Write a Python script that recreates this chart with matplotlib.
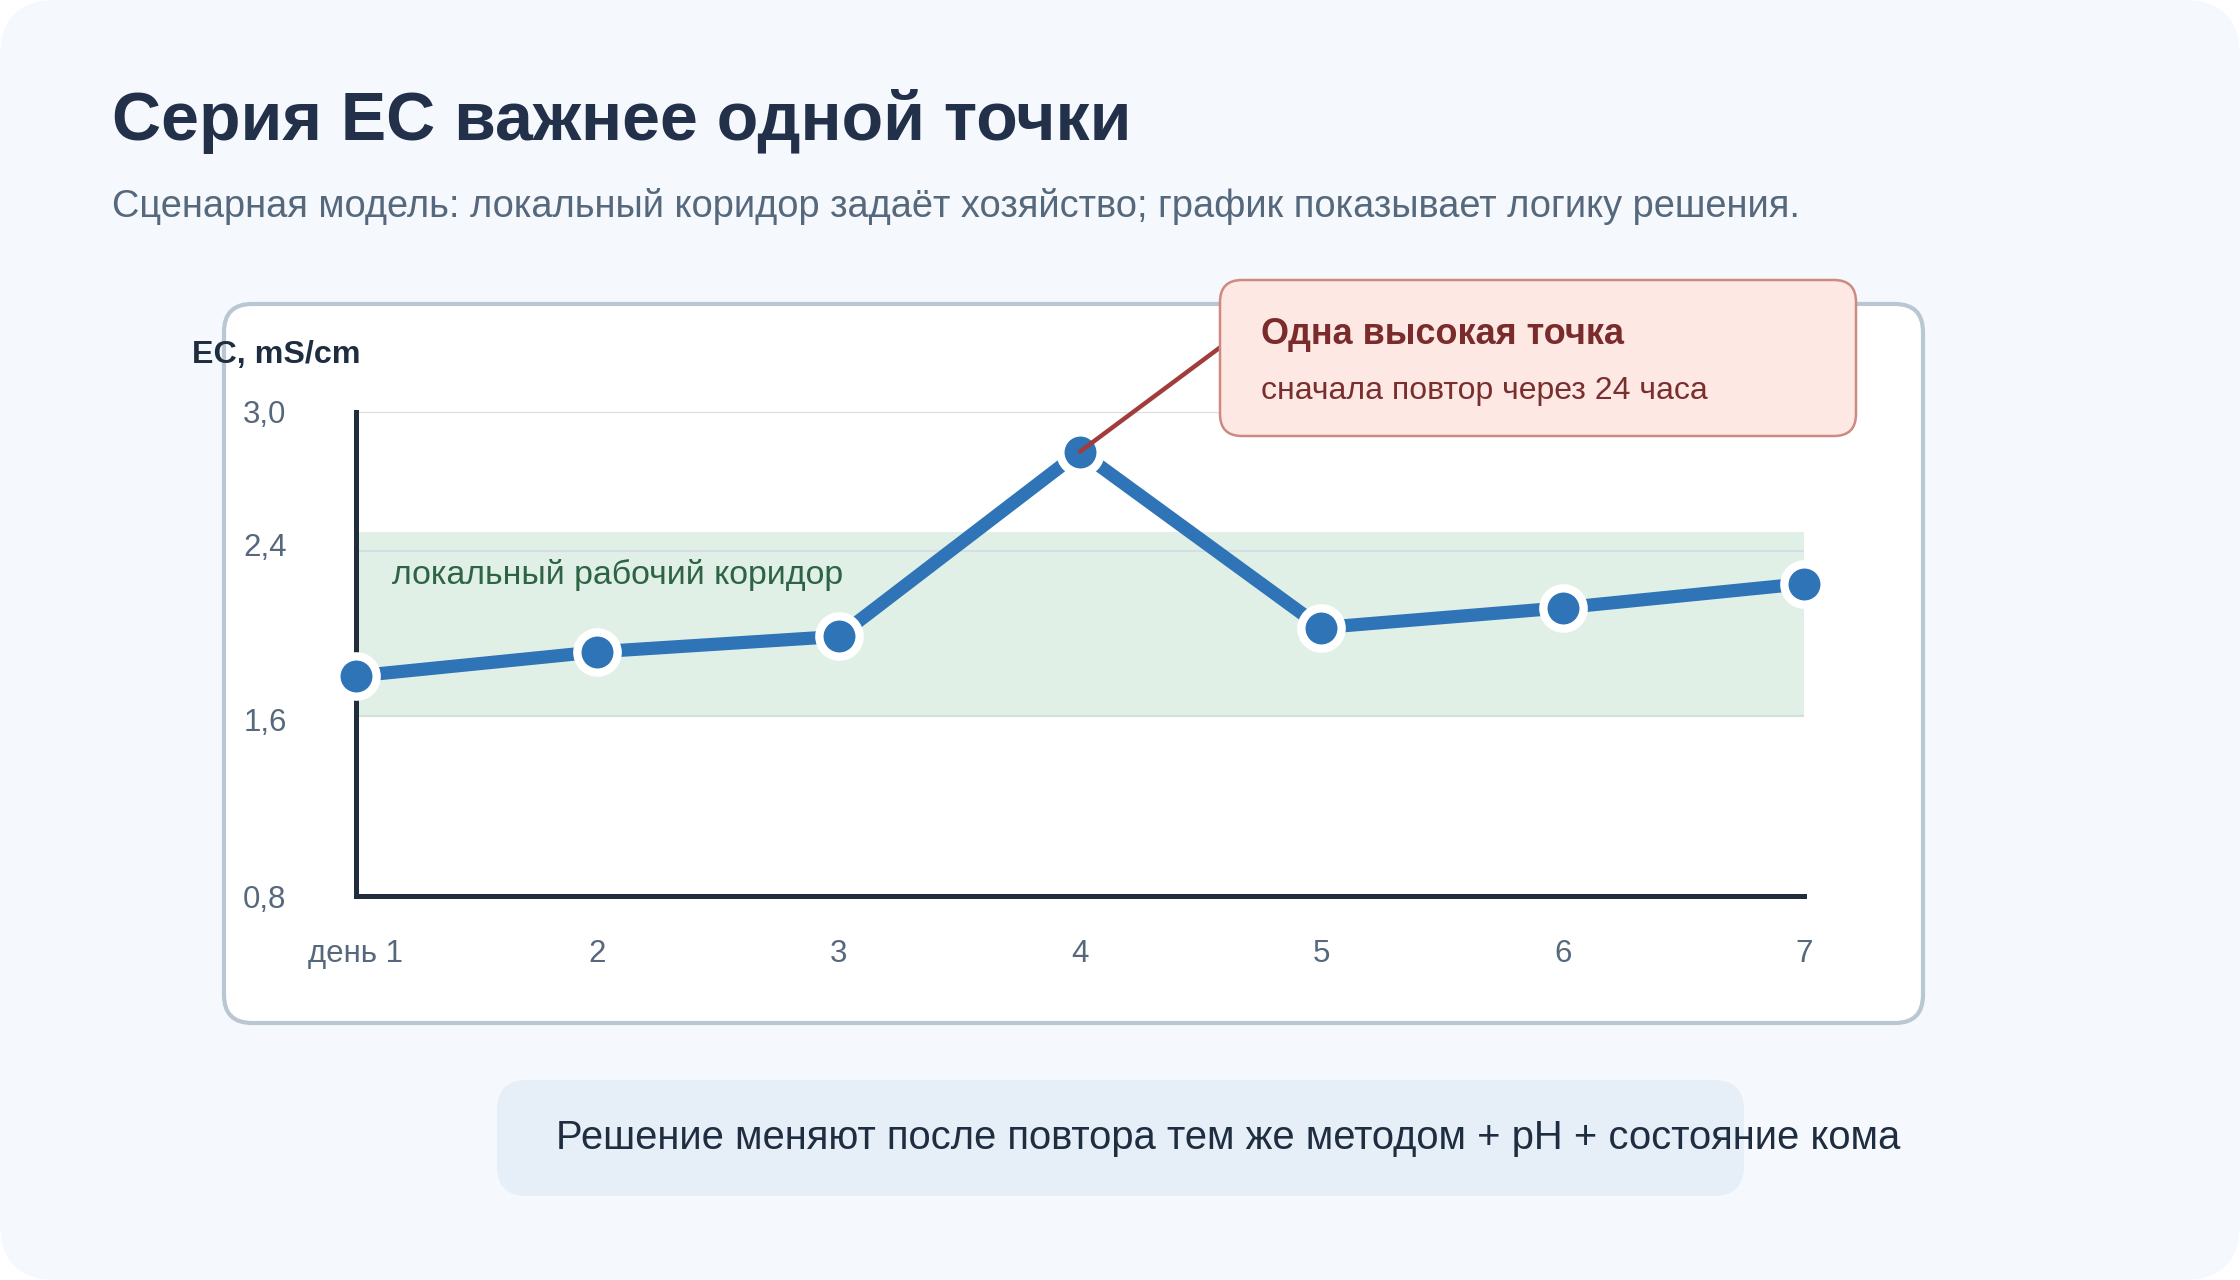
import matplotlib
matplotlib.use("Agg")
import matplotlib.pyplot as plt
from matplotlib.patches import FancyBboxPatch, ConnectionPatch

plt.rcParams['font.family'] = ['Liberation Sans', 'DejaVu Sans']

# data
days = [1, 2, 3, 4, 5, 6, 7]
day_labels = ['день 1', '2', '3', '4', '5', '6', '7']
ec = [1.80, 1.91, 1.98, 2.82, 2.02, 2.11, 2.22]
y_ticks = [0.8, 1.6, 2.4, 3.0]
y_tick_labels = ['0,8', '1,6', '2,4', '3,0']
corridor = (1.62, 2.455)
grid_vals = [2.37, 3.0]
peak_day = 4

W, H = 2240, 1280
fig = plt.figure(figsize=(22.4, 12.8), dpi=100)
fig.patch.set_facecolor('none')

# background layer in pixel coords (y down)
bg = fig.add_axes([0, 0, 1, 1], zorder=0)
bg.set_xlim(0, W)
bg.set_ylim(H, 0)
bg.axis('off')

bg.add_patch(FancyBboxPatch((0, 0), W, H, boxstyle='round,pad=0,rounding_size=56',
                            fc='#f5f9fd', ec='none'))
bg.add_patch(FancyBboxPatch((224, 304), 1699, 719, boxstyle='round,pad=0,rounding_size=28',
                            fc='white', ec='#b8c7d2', lw=3))
bg.add_patch(FancyBboxPatch((497, 1080), 1247, 116, boxstyle='round,pad=0,rounding_size=30',
                            fc='#e6eef8', ec='none'))

bg.text(112, 140, 'Серия EC важнее одной точки', fontsize=49, fontweight='bold',
        color='#22304a', va='baseline')
bg.text(112, 217, 'Сценарная модель: локальный коридор задаёт хозяйство; график показывает логику решения.',
        fontsize=27.4, color='#56687c', va='baseline')
bg.text(192, 363, 'EC, mS/cm', fontsize=23.2, fontweight='bold', color='#1f2d40', va='baseline')
bg.text(556, 1149, 'Решение меняют после повтора тем же методом + pH + состояние кома',
        fontsize=28.8, color='#1f2d40', va='baseline')

# chart
ax = fig.add_axes([356 / W, 1 - 896 / H, 1448 / W, 484 / H], zorder=1)
ax.set_facecolor('none')
ax.set_xlim(days[0], days[-1])
ax.set_ylim(y_ticks[0], y_ticks[-1])

ax.axhspan(corridor[0], corridor[1], color='#e1f0e6', lw=0, zorder=1)
ax.axhline(corridor[0], color='#d0e1da', lw=1.5, zorder=1)
for g in grid_vals:
    ax.axhline(g, color='#d6dde5', lw=1.5, zorder=1.5)

ax.text(1.15, 2.22, 'локальный рабочий коридор', fontsize=24.4, color='#2e6446',
        va='baseline', zorder=2)

ax.plot(days, ec, color='#2e74b7', lw=9.5, solid_capstyle='round', zorder=5, clip_on=False)
ax.plot(days, ec, 'o', ms=29, mfc='#2e74b7', mec='white', mew=6, zorder=6, clip_on=False)

for s in ['top', 'right']:
    ax.spines[s].set_visible(False)
for s in ['left', 'bottom']:
    ax.spines[s].set_color('#1f2d3d')
    ax.spines[s].set_linewidth(3.6)
    ax.spines[s].set_zorder(3)

ax.set_xticks(days)
ax.set_xticklabels(day_labels)
ax.set_yticks(y_ticks)
ax.set_yticklabels(y_tick_labels)
ax.tick_params(axis='both', length=0, labelsize=22.5, labelcolor='#56687c')
ax.tick_params(axis='x', pad=31)
ax.tick_params(axis='y', pad=50)

# callout layer
fg = fig.add_axes([0, 0, 1, 1], zorder=2)
fg.set_xlim(0, W)
fg.set_ylim(H, 0)
fg.axis('off')
fg.set_facecolor('none')

conn = ConnectionPatch(xyA=(peak_day, ec[days.index(peak_day)]), coordsA=ax.transData,
                       xyB=(1222, 346), coordsB=fg.transData,
                       color='#a23c3c', lw=3.2, zorder=7)
fg.add_artist(conn)

fg.add_patch(FancyBboxPatch((1220, 280), 636, 156, boxstyle='round,pad=0,rounding_size=22',
                            fc='#fde8e4', ec='#cc8a80', lw=1.8, zorder=8))
fg.text(1261, 344, 'Одна высокая точка', fontsize=25.9, fontweight='bold', color='#7a2b2b',
        va='baseline', zorder=9)
fg.text(1261, 399, 'сначала повтор через 24 часа', fontsize=23, color='#7a2f2f',
        va='baseline', zorder=9)

fig.savefig('out.png', dpi=100, facecolor='none')
